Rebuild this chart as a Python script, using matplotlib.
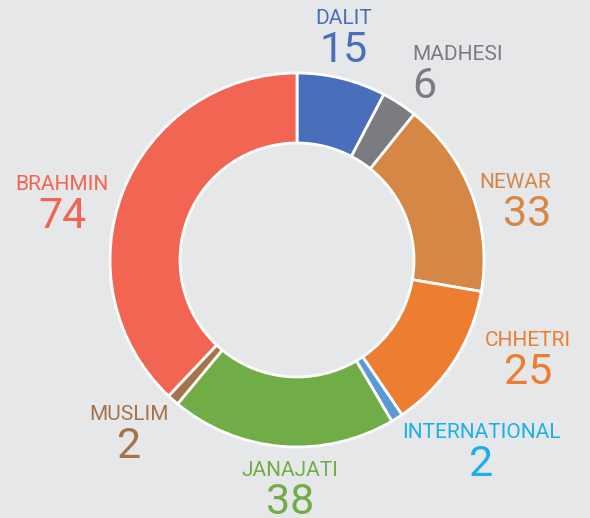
import matplotlib
matplotlib.use("Agg")
import matplotlib.pyplot as plt

# ---------------------------------------------------------------- data --- #
groups = ["DALIT", "MADHESI", "NEWAR", "CHHETRI", "INTERNATIONAL",
          "JANAJATI", "MUSLIM", "BRAHMIN"]
counts = [15, 6, 33, 25, 2, 38, 2, 74]

slice_colors = ["#4a6fba", "#7b7c80", "#d68745", "#ed7d31", "#5b9bd5",
                "#70ad47", "#a5744a", "#f26552"]
text_colors = ["#4a6fba", "#7b7c80", "#d68745", "#ed7d31", "#1ab0ec",
               "#70ad47", "#a5744a", "#f26552"]

# label anchor (x, y of name in pixels from top-left) and alignment
label_pos = [(344, 18, "center"), (412, 55, "left"), (551, 183, "right"),
             (528, 340, "center"), (481, 432, "center"), (290, 470, "center"),
             (129, 414, "center"), (62, 184, "center")]

W, H = 590, 518
BG = "#e6e7e8"

plt.rcParams["font.family"] = ["Roboto", "DejaVu Sans"]

fig = plt.figure(figsize=(W / 100, H / 100), dpi=100, facecolor=BG)
ax = fig.add_axes([0, 0, 1, 1])
ax.set_facecolor(BG)
ax.set_xlim(0, W)
ax.set_ylim(0, H)
ax.set_aspect("equal")
ax.axis("off")

# ---------------------------------------------------------------- donut --- #
ax.pie(counts, colors=slice_colors, startangle=90, counterclock=False,
       center=(297, H - 260), radius=187,
       wedgeprops=dict(width=70, edgecolor="white", linewidth=2))
ax.set_xlim(0, W)
ax.set_ylim(0, H)

# --------------------------------------------------------------- labels --- #
for name, n, col, (x, y, ha) in zip(groups, counts, text_colors, label_pos):
    ax.text(x, H - y, name, color=col, fontsize=15, ha=ha, va="center")
    ax.text(x, H - y - 32, str(n), color=col, fontsize=31, ha=ha,
            va="center")

fig.savefig("out.png", dpi=100, facecolor=BG)
